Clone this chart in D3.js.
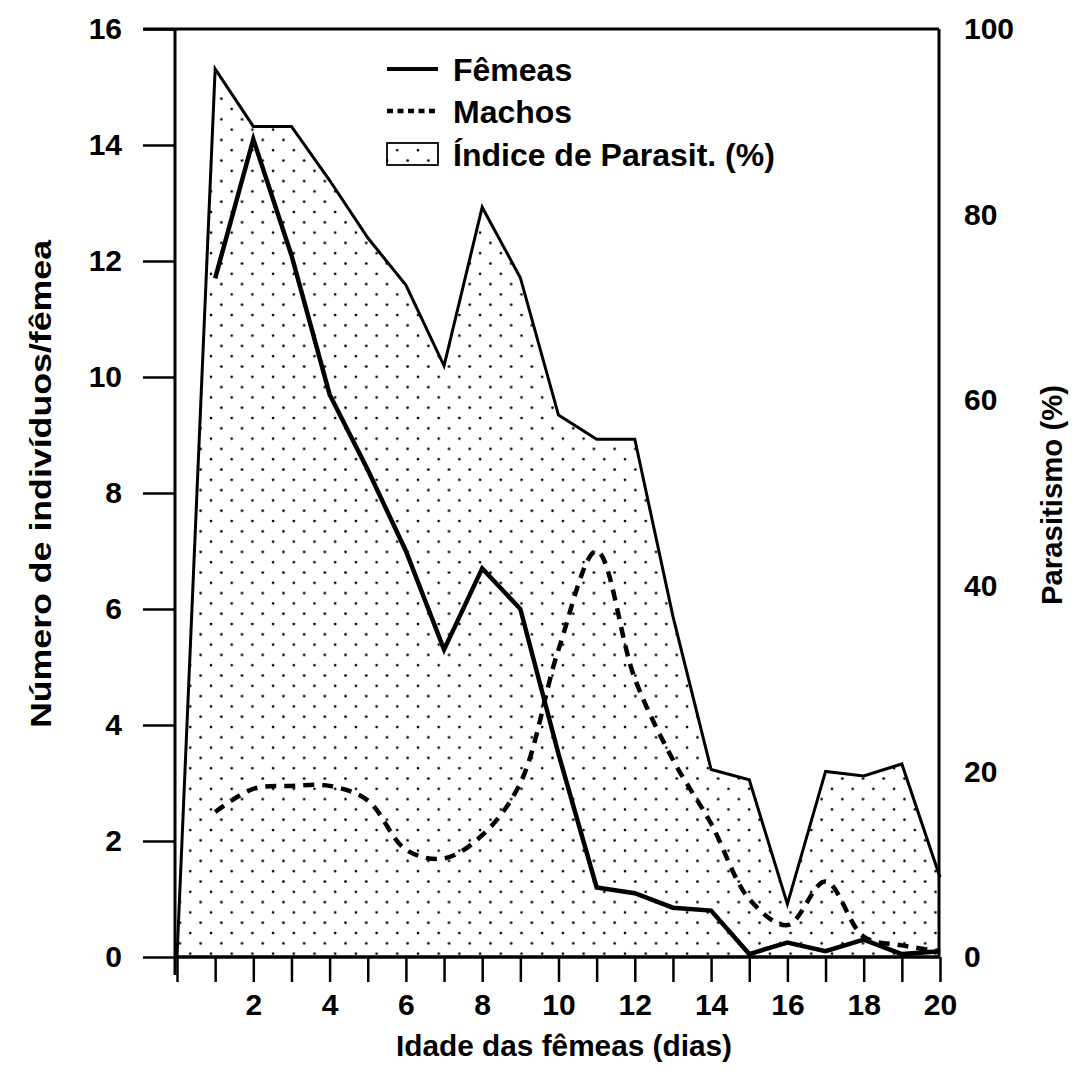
<!DOCTYPE html>
<html>
<head>
<meta charset="utf-8">
<script src="https://cdn.jsdelivr.net/npm/d3@7"></script>
<style>
  html, body { margin: 0; padding: 0; background: #fff; }
  svg { display: block; }
  text { font-family: "Liberation Sans", Arial, sans-serif; font-weight: bold; fill: #000; }
</style>
</head>
<body>
<svg id="chart" width="1081" height="1086"></svg>
<script>
// ---- data ----
const parasitDays = [0, 1, 2, 3, 4, 5, 6, 7, 8, 9, 10, 11, 12, 13, 14, 15, 16, 17, 18, 19, 20];
const parasitPct  = [0, 95.7, 89.5, 89.5, 83.7, 77.5, 72.4, 63.7, 80.8, 73.2, 58.4, 55.8, 55.8, 36.7, 20.2, 19.1, 5.7, 20.0, 19.5, 20.8, 8.6];
const days   = [1, 2, 3, 4, 5, 6, 7, 8, 9, 10, 11, 12, 13, 14, 15, 16, 17, 18, 19, 20];
const femeas = [11.7, 14.1, 12.1, 9.7, 8.4, 7.0, 5.3, 6.7, 6.0, 3.5, 1.2, 1.1, 0.85, 0.8, 0.05, 0.25, 0.1, 0.3, 0.05, 0.1];
const machos = [2.5, 2.9, 2.95, 2.95, 2.7, 1.85, 1.7, 2.1, 3.0, 5.3, 7.0, 4.8, 3.4, 2.3, 1.0, 0.55, 1.3, 0.35, 0.2, 0.1];
const xTicks = [0,1,2,3,4,5,6,7,8,9,10,11,12,13,14,15,16,17,18,19,20];
const yLeftTicks = [0, 2, 4, 6, 8, 10, 12, 14, 16];
const yRightTicks = [0, 20, 40, 60, 80, 100];
const legendLabels = ["Fêmeas", "Machos", "Índice de Parasit. (%)"];
const xTitle = "Idade das fêmeas (dias)";
const yLeftTitle = "Número de indivíduos/fêmea";
const yRightTitle = "Parasitismo (%)";

// ---- layout ----
const svg = d3.select("#chart");
const X0 = 177, X1 = 940, Y0 = 957, Y1 = 29;
const x  = d3.scaleLinear().domain([0, 20]).range([X0, X1]);
const yL = d3.scaleLinear().domain([0, 16]).range([Y0, Y1]);
const yR = d3.scaleLinear().domain([0, 100]).range([Y0, Y1]);

// dotted pattern
const defs = svg.append("defs");
const pat = defs.append("pattern")
  .attr("id", "dots").attr("patternUnits", "userSpaceOnUse")
  .attr("width", 20.7).attr("height", 20.6).attr("x", 2).attr("y", 4);
pat.append("circle").attr("cx", 2).attr("cy", 2).attr("r", 1.35).attr("fill", "#000");
pat.append("circle").attr("cx", 12.35).attr("cy", 12.3).attr("r", 1.35).attr("fill", "#000");

// parasitism area
const area = d3.area()
  .x((d, i) => x(parasitDays[i]))
  .y0(yR(0))
  .y1(d => yR(d));
svg.append("path").datum(parasitPct)
  .attr("d", area).attr("fill", "url(#dots)").attr("stroke", "none");
const pline = d3.line().x((d, i) => x(parasitDays[i])).y(d => yR(d));
svg.append("path").datum(parasitPct)
  .attr("d", pline).attr("fill", "none").attr("stroke", "#000")
  .attr("stroke-width", 3).attr("stroke-linejoin", "miter");

// machos (dashed, smooth)
const mline = d3.line().x((d, i) => x(days[i])).y(d => yL(d)).curve(d3.curveCatmullRom.alpha(0.5));
svg.append("path").datum(machos)
  .attr("d", mline).attr("fill", "none").attr("stroke", "#000")
  .attr("stroke-width", 4.5).attr("stroke-dasharray", "11,8");

// femeas (solid thick)
const fline = d3.line().x((d, i) => x(days[i])).y(d => yL(d));
svg.append("path").datum(femeas)
  .attr("d", fline).attr("fill", "none").attr("stroke", "#000")
  .attr("stroke-width", 4.5).attr("stroke-linejoin", "miter");

// ---- axes ----
const fontSize = 30;
const gL = svg.append("g").attr("transform", `translate(${X0 - 2},0)`)
  .call(d3.axisLeft(yL).tickValues(yLeftTicks).tickSize(32).tickPadding(21).tickSizeOuter(0));
const gB = svg.append("g").attr("transform", `translate(0,${Y0})`)
  .call(d3.axisBottom(x).tickValues(xTicks).tickSize(25).tickPadding(12).tickSizeOuter(0)
    .tickFormat(d => (d > 0 && d % 2 === 0) ? d : ""));
const gR = svg.append("g").attr("transform", `translate(${X1},0)`)
  .call(d3.axisRight(yR).tickValues(yRightTicks).tickSize(0).tickPadding(24));
gR.select(".domain").remove();

[gL, gB, gR].forEach(g => {
  g.attr("font-size", fontSize).attr("font-weight", "bold")
    .attr("font-family", '"Liberation Sans", Arial, sans-serif');
  g.selectAll("text").attr("font-size", fontSize).style("font-size", fontSize + "px")
    .style("font-weight", "bold").attr("fill", "#000");
  g.selectAll("line").attr("stroke", "#000").attr("stroke-width", 2.5);
});
gL.select(".domain").remove();
gB.select(".domain").remove();

// frame
svg.append("line").attr("x1", X0 - 2).attr("x2", X0 - 2).attr("y1", Y1).attr("y2", Y0 + 18)
  .attr("stroke", "#000").attr("stroke-width", 3);
svg.append("line").attr("x1", X0 - 34).attr("x2", X1 - 1).attr("y1", Y1).attr("y2", Y1)
  .attr("stroke", "#000").attr("stroke-width", 3);
svg.append("line").attr("x1", X1 - 1).attr("x2", X1 - 1).attr("y1", Y1).attr("y2", Y0)
  .attr("stroke", "#000").attr("stroke-width", 3);
svg.append("line").attr("x1", X0 - 2).attr("x2", X1).attr("y1", Y0).attr("y2", Y0)
  .attr("stroke", "#000").attr("stroke-width", 3.5);

// ---- titles ----
svg.append("text").attr("x", 564).attr("y", 1056).attr("text-anchor", "middle")
  .style("font-size", "30px").attr("textLength", 336).attr("lengthAdjust", "spacingAndGlyphs")
  .text(xTitle);
svg.append("text").attr("transform", "translate(51,484) rotate(-90)").attr("text-anchor", "middle")
  .style("font-size", "30px").attr("textLength", 488).attr("lengthAdjust", "spacingAndGlyphs")
  .text(yLeftTitle);
svg.append("text").attr("transform", "translate(1062,495) rotate(-90)").attr("text-anchor", "middle")
  .style("font-size", "29px").attr("textLength", 220).attr("lengthAdjust", "spacingAndGlyphs")
  .text(yRightTitle);

// ---- legend ----
const lg = svg.append("g");
const LX0 = 387, LX1 = 438, TX = 453;
const rowsY = [69, 111, 154];
lg.append("line").attr("x1", LX0).attr("x2", LX1).attr("y1", rowsY[0]).attr("y2", rowsY[0])
  .attr("stroke", "#000").attr("stroke-width", 4);
lg.append("line").attr("x1", LX0).attr("x2", LX1).attr("y1", rowsY[1]).attr("y2", rowsY[1])
  .attr("stroke", "#000").attr("stroke-width", 4.5).attr("stroke-dasharray", "6,4.5");
lg.append("rect").attr("x", LX0).attr("y", rowsY[2] - 11).attr("width", LX1 - LX0).attr("height", 22)
  .attr("fill", "url(#dots)").attr("stroke", "#000").attr("stroke-width", 1.8);
legendLabels.forEach((t, i) => {
  lg.append("text").attr("x", TX).attr("y", rowsY[i]).attr("dy", "0.36em")
    .style("font-size", "32px").text(t);
});
</script>
</body>
</html>
